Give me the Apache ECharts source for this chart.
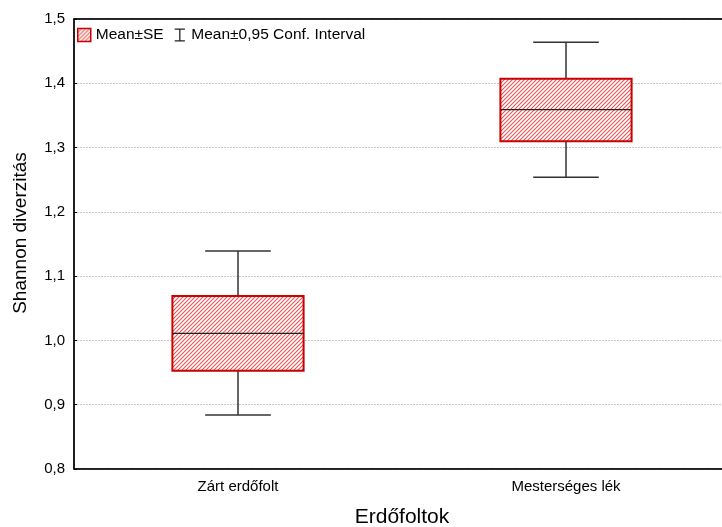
<!DOCTYPE html>
<html>
<head>
<meta charset="utf-8">
<script src="https://cdn.jsdelivr.net/npm/echarts@6/dist/echarts.min.js"></script>
<style>
html,body{margin:0;padding:0;background:#fff;}
#chart{width:722px;height:527px;}
</style>
</head>
<body>
<div id="chart"></div>
<script>
const categories = ['Zárt erdőfolt', 'Mesterséges lék'];
const means  = [1.011, 1.359];
const seLow  = [0.953, 1.310];
const seHigh = [1.069, 1.407];
const ciLow  = [0.884, 1.254];
const ciHigh = [1.139, 1.464];
const yTicks = [0.8, 0.9, 1.0, 1.1, 1.2, 1.3, 1.4, 1.5];

const FONT = '"Liberation Sans", Arial, sans-serif';

function makeHatch() {
  const s = 4;
  const c = document.createElement('canvas');
  c.width = s; c.height = s;
  const g = c.getContext('2d');
  g.fillStyle = '#ffffff';
  g.fillRect(0, 0, s, s);
  g.strokeStyle = '#e25555';
  g.lineWidth = 1.1;
  g.beginPath();
  g.moveTo(-1, s + 1); g.lineTo(s + 1, -1);
  g.moveTo(-1, 1); g.lineTo(1, -1);
  g.moveTo(s - 1, s + 1); g.lineTo(s + 1, s - 1);
  g.stroke();
  return c;
}
const hatch = { image: makeHatch(), repeat: 'repeat' };

const boxData = categories.map((c, i) => [i, seLow[i], seHigh[i], means[i]]);
const ciData = categories.map((c, i) => [i, ciLow[i], ciHigh[i], seLow[i], seHigh[i]]);

const chart = echarts.init(document.getElementById('chart'));
chart.setOption({
  animation: false,
  backgroundColor: '#fff',
  grid: { left: 74, top: 19, right: -8, bottom: 58, show: true, borderColor: '#000', borderWidth: 1,
          containLabel: false, outerBoundsMode: 'none' },
  legend: {
    left: 77, top: 27, padding: 0,
    itemWidth: 13, itemHeight: 13, itemGap: 11,
    textStyle: { fontFamily: FONT, fontSize: 15.5, color: '#000' },
    data: [
      { name: 'Mean±SE', icon: 'rect', itemStyle: { color: hatch, borderColor: '#cc0000', borderWidth: 1.5 } },
      { name: 'Mean±0,95 Conf. Interval', icon: 'path://M0,0H11V1.4H6.2V12.6H11V14H0V12.6H4.8V1.4H0Z', itemStyle: { color: '#222', borderWidth: 0 } }
    ]
  },
  xAxis: [{
    type: 'category',
    data: categories,
    boundaryGap: true,
    axisLine: { lineStyle: { color: '#000', width: 1.5 } },
    axisTick: { alignWithLabel: true, inside: true, length: 4, lineStyle: { color: '#000' } },
    axisLabel: { fontFamily: FONT, fontSize: 15, color: '#000', margin: 10 },
    name: 'Erdőfoltok',
    nameLocation: 'middle',
    nameGap: 38,
    nameTextStyle: { fontFamily: FONT, fontSize: 21, color: '#000' },
    splitLine: { show: false }
  }, {
    type: 'category',
    data: categories,
    position: 'top',
    boundaryGap: true,
    axisLine: { lineStyle: { color: '#000', width: 1.5 } },
    axisTick: { alignWithLabel: true, inside: true, length: 4, lineStyle: { color: '#000' } },
    axisLabel: { show: false },
    splitLine: { show: false }
  }],
  yAxis: {
    type: 'value',
    min: 0.8, max: 1.5, interval: 0.1,
    axisLine: { show: true, lineStyle: { color: '#000', width: 1.5 } },
    axisTick: { show: true, inside: true, length: 3, lineStyle: { color: '#000' } },
    axisLabel: {
      fontFamily: FONT, fontSize: 15, color: '#000', margin: 9,
      formatter: v => {
        const t = yTicks.find(x => Math.abs(x - v) < 1e-6);
        return (t !== undefined ? t : v).toFixed(1).replace('.', ',');
      }
    },
    splitLine: { show: true, lineStyle: { color: '#c8c8c8', type: [2, 1], width: 1 } },
    name: 'Shannon diverzitás',
    nameLocation: 'middle',
    nameGap: 44,
    nameTextStyle: { fontFamily: FONT, fontSize: 19, color: '#000', padding: [0, 0, 0, 22] }
  },
  series: [{
    name: 'Mean±0,95 Conf. Interval',
    type: 'custom',
    data: ciData,
    itemStyle: { color: '#222' },
    renderItem: function (params, api) {
      const i = api.value(0);
      const band = api.size([1, 0])[0];
      const cap = band * 0.1;
      const top = api.coord([i, api.value(2)]);
      const bot = api.coord([i, api.value(1)]);
      const sh = api.coord([i, api.value(4)]);
      const sl = api.coord([i, api.value(3)]);
      const x = top[0];
      const st = { stroke: '#333', lineWidth: 1.5 };
      return {
        type: 'group',
        children: [
          { type: 'line', shape: { x1: x, y1: top[1], x2: x, y2: sh[1] }, style: st },
          { type: 'line', shape: { x1: x, y1: sl[1], x2: x, y2: bot[1] }, style: st },
          { type: 'line', shape: { x1: x - cap, y1: top[1], x2: x + cap, y2: top[1] }, style: st },
          { type: 'line', shape: { x1: x - cap, y1: bot[1], x2: x + cap, y2: bot[1] }, style: st }
        ]
      };
    }
  }, {
    name: 'Mean±SE',
    type: 'custom',
    data: boxData,
    itemStyle: { color: hatch, borderColor: '#cc0000' },
    renderItem: function (params, api) {
      const i = api.value(0);
      const band = api.size([1, 0])[0];
      const half = band * 0.2;
      const hi = api.coord([i, api.value(2)]);
      const lo = api.coord([i, api.value(1)]);
      const m = api.coord([i, api.value(3)]);
      const x = hi[0];
      return {
        type: 'group',
        children: [
          { type: 'rect', shape: { x: x - half, y: hi[1], width: half * 2, height: lo[1] - hi[1] },
            style: { fill: hatch, stroke: '#cc0000', lineWidth: 2 } },
          { type: 'line', shape: { x1: x - half, y1: m[1], x2: x + half, y2: m[1] },
            style: { stroke: '#222', lineWidth: 1.2 } }
        ]
      };
    }
  }]
});
</script>
</body>
</html>
